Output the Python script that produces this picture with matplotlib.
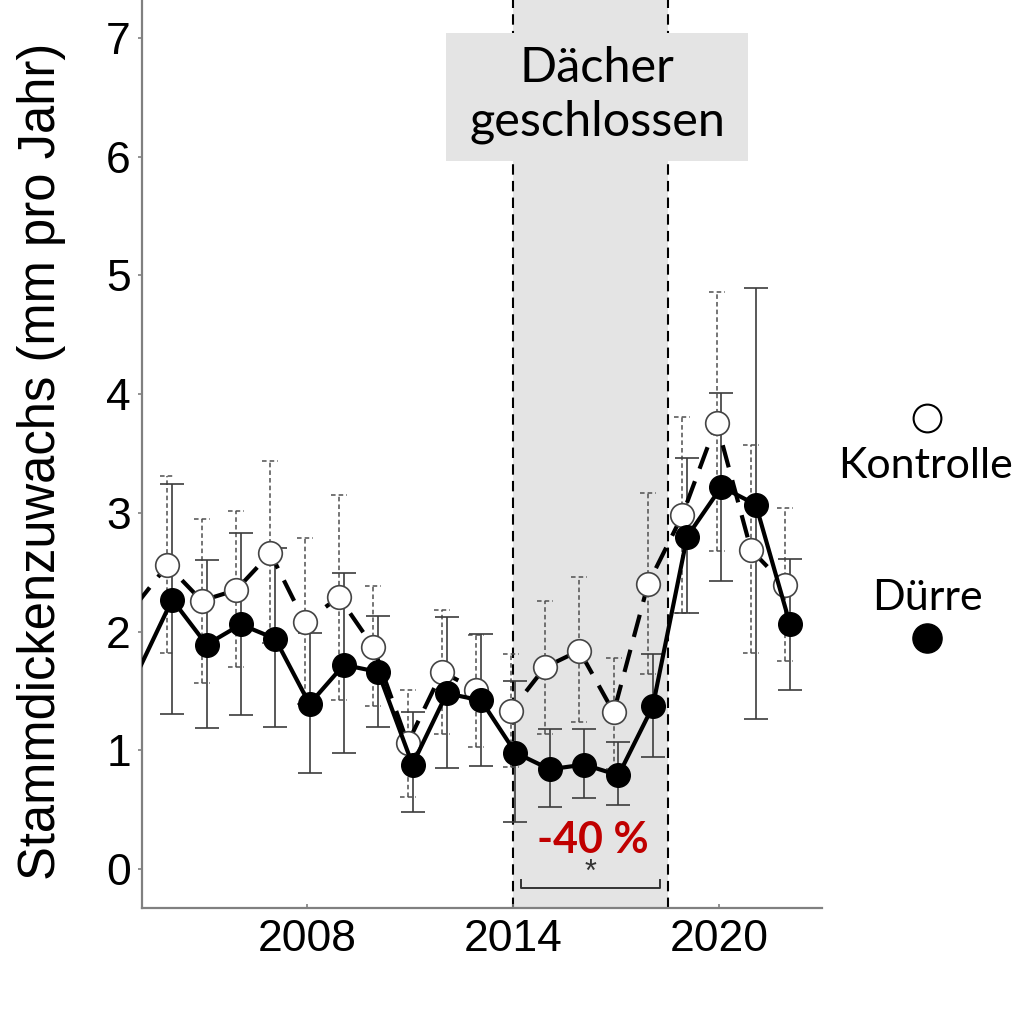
import numpy as np
import matplotlib.pyplot as plt
from matplotlib.patches import Rectangle
from matplotlib.lines import Line2D

# data (mm per year)
years = np.arange(2004, 2023)
kontrolle = [2.56, 2.26, 2.35, 2.66, 2.08, 2.29, 1.87, 1.06, 1.66, 1.51,
             1.33, 1.70, 1.84, 1.32, 2.40, 2.98, 3.76, 2.69, 2.39]
kontrolle_lo = [1.82, 1.57, 1.70, 1.90, 1.39, 1.42, 1.37, 0.61, 1.14, 1.03,
                0.86, 1.14, 1.24, 0.84, 1.64, 2.16, 2.68, 1.82, 1.75]
kontrolle_hi = [3.31, 2.95, 3.02, 3.44, 2.79, 3.15, 2.38, 1.51, 2.18, 1.97,
                1.81, 2.26, 2.46, 1.78, 3.17, 3.81, 4.86, 3.57, 3.04]
duerre = [2.27, 1.89, 2.06, 1.94, 1.39, 1.72, 1.66, 0.88, 1.48, 1.42,
          0.98, 0.84, 0.88, 0.79, 1.37, 2.80, 3.22, 3.07, 2.06]
duerre_lo = [1.31, 1.19, 1.30, 1.20, 0.81, 0.98, 1.20, 0.48, 0.85, 0.87,
             0.40, 0.52, 0.60, 0.54, 0.94, 2.16, 2.43, 1.26, 1.51]
duerre_hi = [3.24, 2.60, 2.83, 2.70, 1.99, 2.49, 2.13, 1.32, 2.12, 1.98,
             1.58, 1.18, 1.18, 1.07, 1.81, 3.46, 4.01, 4.89, 2.61]
# the lines come in from a 2003 value left of the visible range
lead_year = 2003
lead_kontrolle = 2.22
lead_duerre = 1.62

roof_start, roof_end = 2014, 2018.5

calibri_like = ['Lato', 'DejaVu Sans']
plt.rcParams['font.family'] = ['Liberation Sans', 'DejaVu Sans']

fig = plt.figure(figsize=(10.26, 10.30), dpi=100)
ax = fig.add_axes([0.1384, 0.1184, 0.6628, 0.8816])

dodge = 0.07
xk = years - dodge
xd = years + dodge

ax.axvspan(roof_start, roof_end, color='#e4e4e4', zorder=0, lw=0)
for xv in (roof_start, roof_end):
    ax.axvline(xv, color='black', lw=1.5, ls=(0, (5, 3)), zorder=1)

# Kontrolle error bars, dotted with dashed caps
ax.vlines(xk, kontrolle_lo, kontrolle_hi, color='#505050', lw=1.1,
          linestyles=(0, (3, 2)), zorder=2)
cap = 0.23
ax.hlines(kontrolle_lo, xk - cap, xk + cap, color='#505050', lw=1.1,
          linestyles=(0, (3, 2)), zorder=2)
ax.hlines(kontrolle_hi, xk - cap, xk + cap, color='#505050', lw=1.1,
          linestyles=(0, (3, 2)), zorder=2)

# Duerre error bars, solid
d = np.array(duerre)
ax.errorbar(xd, d, yerr=[d - np.array(duerre_lo), np.array(duerre_hi) - d],
            fmt='none', ecolor='#3c3c3c', elinewidth=1.2, capsize=8.5,
            capthick=1.2, zorder=2)

ax.plot(np.r_[lead_year, xk], np.r_[lead_kontrolle, kontrolle], color='black',
        lw=3, ls=(0, (5.5, 3.2)), zorder=3)
ax.plot(xk, kontrolle, ls='none', marker='o', ms=17, mfc='white',
        mec='#444444', mew=1.2, zorder=4)
ax.plot(np.r_[lead_year, xd], np.r_[lead_duerre, duerre], color='black',
        lw=3, zorder=5)
ax.plot(xd, duerre, ls='none', marker='o', ms=17, mfc='black',
        mec='black', zorder=6)

ax.set_xlim(2003.19, 2023.0)
ax.set_ylim(-0.3285, 7.32)
ax.set_xticks([2008, 2014, 2020])
ax.set_yticks(range(0, 8))
ax.tick_params(axis='both', labelsize=32, colors='#808080', labelcolor='black')
ax.tick_params(axis='y', length=3, width=1.2, pad=5)
ax.tick_params(axis='x', length=3, width=1.2, direction='in', pad=8)
for s in ('top', 'right'):
    ax.spines[s].set_visible(False)
for s in ('left', 'bottom'):
    ax.spines[s].set_color('#808080')
    ax.spines[s].set_linewidth(1.6)

ax.set_ylabel('Stammdickenzuwachs (mm pro Jahr)', fontsize=36.5)
ax.yaxis.set_label_coords(-0.112, 0.492)

# significance bracket
br_y = -0.16
ax.plot([2014.23, 2014.23, 2018.28, 2018.28], [br_y + 0.07, br_y, br_y, br_y + 0.07],
        color='#333333', lw=1.4, zorder=7, clip_on=False)
ax.text(2016.25, -0.03, '*', ha='center', va='center', fontsize=22, color='#333333')
ax.text(0.578, 0.1718, '-40 %', transform=fig.transFigure, ha='center',
        va='baseline', fontsize=31, fontweight='bold', color='#c00000',
        family=calibri_like)

# label box at the top
ax.add_patch(Rectangle((0.4347, 0.8437), 0.2943, 0.1243, transform=fig.transFigure,
                       facecolor='#e4e4e4', edgecolor='none', zorder=10, clip_on=False))
fig.text(0.5819, 0.9204, 'Dächer', ha='center', va='baseline', fontsize=35,
         family=calibri_like, zorder=11)
fig.text(0.5819, 0.8689, 'geschlossen', ha='center', va='baseline', fontsize=35,
         family=calibri_like, zorder=11)

# legend on the right
fig.add_artist(Line2D([0.9035], [0.5942], marker='o', ms=20, mfc='white',
                      mec='black', mew=1.5, transform=fig.transFigure))
fig.add_artist(Line2D([0.9035], [0.3806], marker='o', ms=21, mfc='black',
                      mec='black', transform=fig.transFigure))
fig.text(0.9025, 0.5359, 'Kontrolle', ha='center', va='baseline', fontsize=31,
         family=calibri_like)
fig.text(0.9035, 0.4078, 'Dürre', ha='center', va='baseline', fontsize=31,
         family=calibri_like)

fig.savefig('out.png', dpi=100)
